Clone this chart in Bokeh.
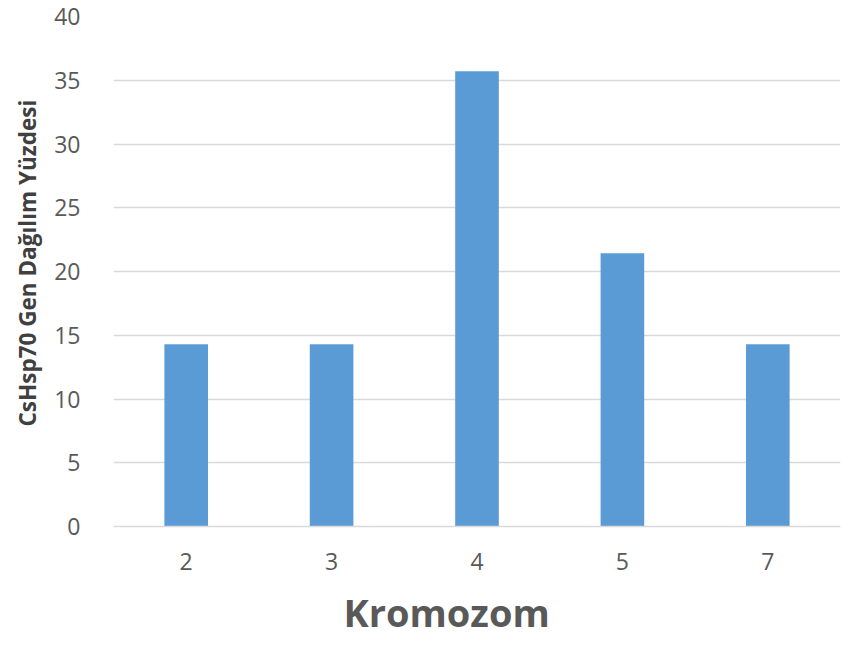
from bokeh.plotting import figure
from bokeh.models import FactorRange, Range1d, SingleIntervalTicker, ColumnDataSource, Title
from bokeh.embed import file_html
from bokeh.resources import INLINE

chromosomes = ["2", "3", "4", "5", "7"]
percentages = [14.29, 14.29, 35.71, 21.43, 14.29]
y_label = "CsHsp70 Gen Dağılım Yüzdesi"
x_label = "Kromozom"

source = ColumnDataSource(data=dict(chrom=chromosomes, pct=percentages))

p = figure(
    width=843, height=650,
    x_range=FactorRange(*chromosomes, range_padding=0),
    y_range=Range1d(0, 40),
    output_backend="svg", toolbar_location=None,
    min_border_left=107, min_border_right=3, min_border_top=16, min_border_bottom=124,
)
p.outline_line_color = None
p.background_fill_color = "white"
p.border_fill_color = "white"

p.vbar(x="chrom", top="pct", width=0.3, source=source, color="#5B9BD5", line_color=None)

grey = "#595959"
font = "Open Sans"

p.yaxis.ticker = SingleIntervalTicker(interval=5)
p.yaxis.axis_line_color = None
p.yaxis.major_tick_line_color = None
p.yaxis.minor_tick_line_color = None
p.yaxis.major_label_text_font = font
p.yaxis.major_label_text_font_size = "23px"
p.yaxis.major_label_text_color = grey
p.yaxis.major_label_standoff = 27

p.xaxis.axis_line_color = "#d9d9d9"
p.xaxis.axis_line_width = 1.5
p.xaxis.major_tick_line_color = None
p.xaxis.minor_tick_line_color = None
p.xaxis.major_label_text_font = font
p.xaxis.major_label_text_font_size = "23px"
p.xaxis.major_label_text_color = grey
p.xaxis.major_label_standoff = 20

xt = Title(text=x_label, align="left", offset=230, standoff=23,
           text_font=font, text_font_size="38px", text_font_style="bold",
           text_color=grey)
p.add_layout(xt, "below")

yt = Title(text=y_label, align="left", offset=100, standoff=18,
           text_font=font, text_font_size="22.5px", text_font_style="bold",
           text_color="#404040")
p.add_layout(yt, "left")

p.xgrid.grid_line_color = None
p.ygrid.grid_line_color = "#d9d9d9"
p.ygrid.grid_line_width = 1.5

open("out.html", "w").write(file_html(p, INLINE))
